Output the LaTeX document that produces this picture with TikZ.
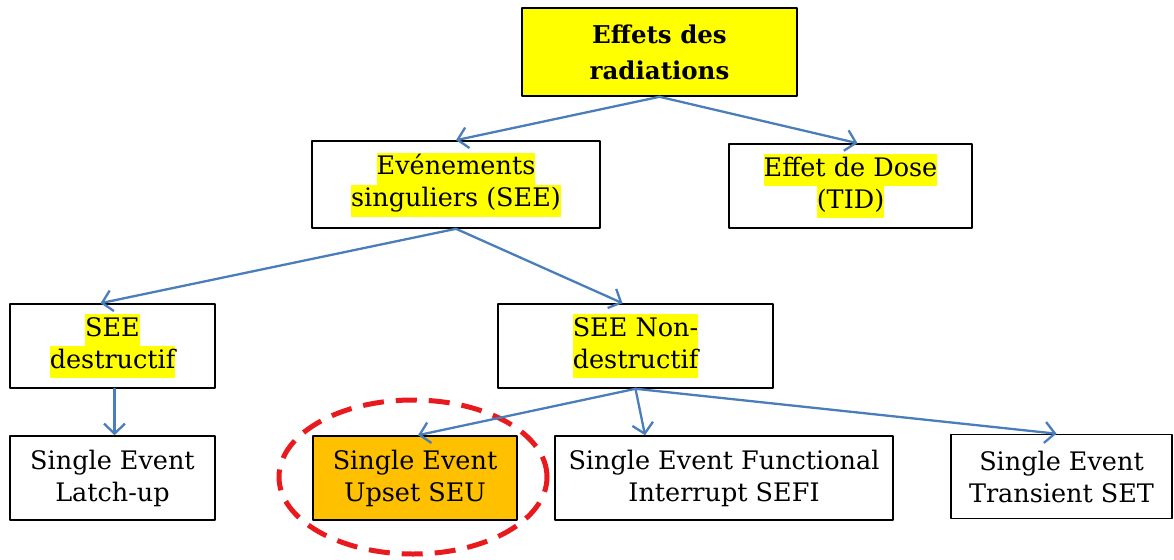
\documentclass[tikz,border=0pt]{standalone}
\usepackage{fontspec}
\setmainfont{DejaVu Serif}
\usetikzlibrary{arrows.meta}
\definecolor{linkblue}{RGB}{74,126,187}
\definecolor{hlyellow}{RGB}{255,255,0}
\definecolor{seuorange}{RGB}{255,192,0}
\definecolor{markred}{RGB}{232,26,30}
\newcommand*\hlline[1]{{\setlength\fboxsep{0pt}\colorbox{hlyellow}{\strut#1}}}

\begin{document}
\begin{tikzpicture}[
        x=1pt, y=-1pt,
        line cap=round, line join=round,
        box/.style={draw=black, line width=1.6pt, fill=white, align=center,
            inner sep=0pt, minimum width=#1, minimum height=84pt,
            font=\fontsize{25.5}{32}\selectfont},
        link/.style={draw=linkblue, line width=2.3pt,
            -{Straight Barb[length=10pt,width=21pt,line width=2.3pt]}}
    ]
    \useasboundingbox (0,0) rectangle (1174,559);
    \node[box=275pt, fill=hlyellow, minimum height=88pt,
        font=\fontsize{24.5}{36}\selectfont\bfseries] (effets) at (659.5,52) {Effets des\\radiations};
    \node[box=288pt, minimum height=87pt] (see) at (456,184.5) {\hlline{Evénements}\\\hlline{singuliers (SEE)}};
    \node[box=243pt] (dose) at (850.5,186) {\hlline{Effet de Dose}\\\hlline{(TID)}};
    \node[box=205pt] (destr) at (112.5,346) {\hlline{SEE}\\\hlline{destructif}};
    \node[box=275pt] (nondestr) at (635.5,346) {\hlline{SEE Non-}\\\hlline{destructif}};
    \node[box=205pt] (sel) at (112.5,478) {Single Event\\Latch-up};
    \node[box=204pt, fill=seuorange] (seu) at (415,478) {Single Event\\Upset SEU};
    \node[box=338pt] (sefi) at (724,478) {Single Event Functional\\Interrupt SEFI};
    \node[box=221pt] (set) at (1061.5,476.5) {Single Event\\Transient SET};
    \draw[markred, line width=5pt, line cap=butt, dash pattern=on 21pt off 12pt]
        (413,477) ellipse [x radius=134pt, y radius=77pt];
    \draw[link] (effets.south) -- (see.north);
    \draw[link] (effets.south) -- ([xshift=7pt]dose.north);
    \draw[link] (see.south) -- ([xshift=-12pt]destr.north);
    \draw[link] (see.south) -- ([xshift=-13pt]nondestr.north);
    \draw[link] ([xshift=2pt]destr.south) -- ([xshift=2pt]sel.north);
    \draw[link] (nondestr.south) -- ([xshift=3pt]seu.north);
    \draw[link] (nondestr.south) -- ([xshift=-79pt]sefi.north);
    \draw[link] (nondestr.south) -- ([xshift=-5pt]set.north);
\end{tikzpicture}
\end{document}
